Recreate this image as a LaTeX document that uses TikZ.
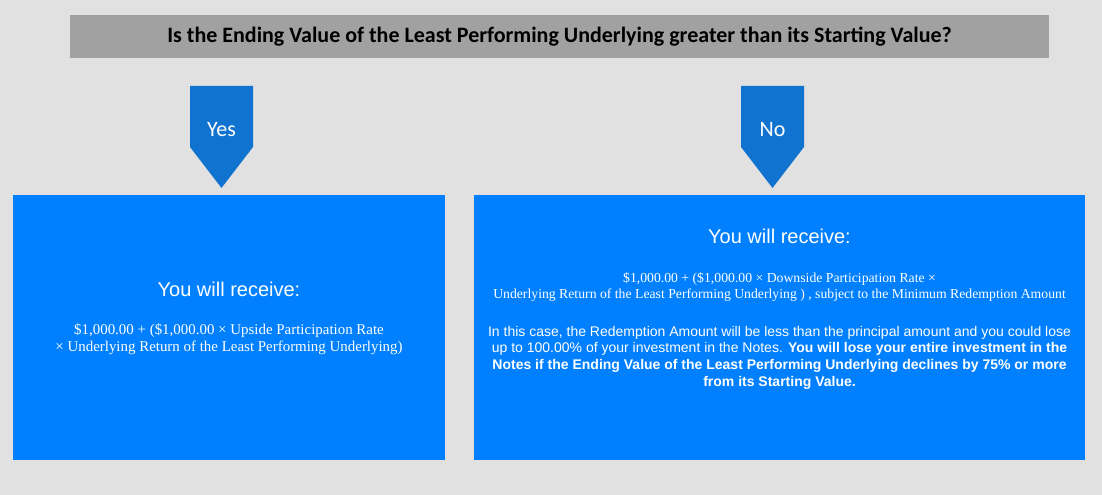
\documentclass[tikz,border=0pt]{standalone}
\usepackage{fontspec}
\setmainfont{Liberation Serif}
\setsansfont{Liberation Sans}
\newfontfamily\calibfont{Carlito}

\definecolor{bggray}{HTML}{E1E1E1}
\definecolor{titlegray}{HTML}{A1A1A1}
\definecolor{arrowblue}{HTML}{1173D0}
\definecolor{boxblue}{HTML}{0080FF}

\tikzset{
  answer/.style={text=white,font=\calibfont\fontsize{16.5}{18}\selectfont},
  outcome/.style={fill=boxblue,inner sep=0pt,minimum height=198.75pt},
  receive/.style={text=white,font=\sffamily\fontsize{15}{18}\selectfont},
}

\begin{document}
\begin{tikzpicture}[x=0.75pt,y=-0.75pt]

\fill[bggray] (0,0) rectangle (1102,495);

\node[fill=titlegray,inner sep=0pt,minimum width=734.25pt,minimum height=32.25pt,
  font=\calibfont\bfseries\fontsize{16.5}{19}\selectfont] (question) at (559.5,36.5)
  {Is the Ending Value of the Least Performing Underlying greater than its Starting Value?};

%arrows
\fill[arrowblue] (190,86) -- (253,86) -- (253,147) -- (221.5,188) -- (190,147) -- cycle;
\fill[arrowblue] (741,86) -- (804,86) -- (804,147) -- (772.5,188) -- (741,147) -- cycle;
\node[answer] (yes) at (221.5,130) {Yes};
\node[answer] (no)  at (772.5,130) {No};

\node[outcome,minimum width=324pt]    (lbox) at (229,327.5) {};
\node[outcome,minimum width=458.25pt] (rbox) at (779.5,327.5) {};

%left box
\node[receive] (lhead) at (229,289) {You will receive:};
\node[text=white,align=center,font=\fontsize{11.2}{12.75}\selectfont] (lform) at (229,339.5)
  {\$1,000.00 + (\$1,000.00 × Upside Participation Rate\\
   × Underlying Return of the Least Performing Underlying)};

%right box
\node[receive] (rhead) at (779.5,236) {You will receive:};
\node[text=white,align=center,font=\fontsize{10.3}{12}\selectfont] (rform) at (779.5,287.5)
  {\$1,000.00 + (\$1,000.00 × Downside Participation Rate ×\\
   Underlying Return of the Least Performing Underlying ) , subject to the Minimum Redemption Amount};
\node[text=white,align=center,font=\sffamily\fontsize{10.5}{12.5}\selectfont] (rnote) at (779.5,357.5)
  {In this case, the Redemption Amount will be less than the principal amount and you could lose\\
   up to 100.00\% of your investment in the Notes. \textbf{You will lose your entire investment in the}\\
   \textbf{Notes if the Ending Value of the Least Performing Underlying declines by 75\% or more}\\
   \textbf{from its Starting Value.}};

\end{tikzpicture}
\end{document}
